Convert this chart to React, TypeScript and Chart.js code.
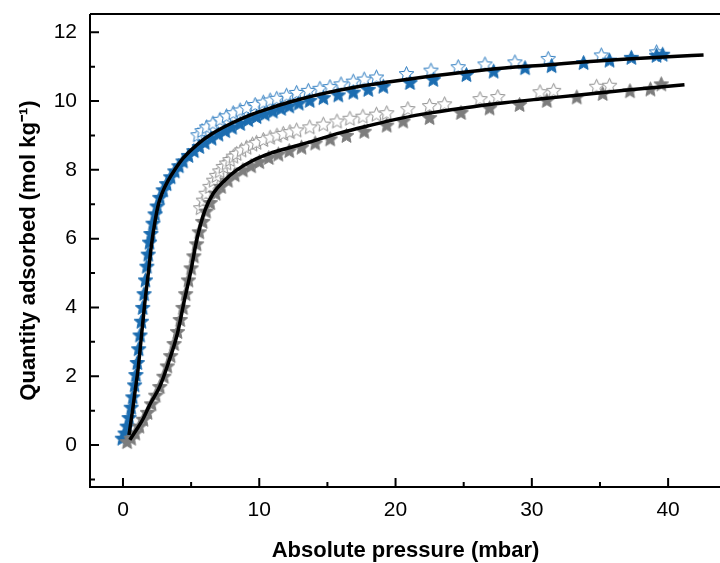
import React, { useEffect, useRef } from "react";
import { Chart, registerables } from "chart.js";

Chart.register(...registerables);

// ---- data ----
const blueAdsX = [-0.05, 0.15, 0.3, 0.45, 0.6, 0.72, 0.85, 0.95, 1.05, 1.15, 1.25, 1.35, 1.45, 1.55, 1.65, 1.75, 1.85, 1.95, 2.05, 2.2, 2.35, 2.5, 2.7, 2.95, 3.2, 3.5, 3.8, 4.1, 4.4, 4.8, 5.2, 5.6, 6.0, 6.5, 7.0, 7.5, 8.0, 8.6, 9.2, 9.8, 10.4, 11.0, 11.6, 12.2, 12.9, 13.7, 14.7, 15.8, 16.9, 18.0, 19.1, 21.06, 22.77, 25.2, 27.2, 29.5, 31.45, 33.8, 35.7, 37.3, 39.15, 39.6];
const blueAdsY = [0.2, 0.35, 0.55, 0.8, 1.1, 1.4, 1.75, 2.05, 2.4, 2.8, 3.2, 3.6, 4.0, 4.4, 4.8, 5.2, 5.55, 5.9, 6.15, 6.45, 6.72, 6.95, 7.2, 7.42, 7.6, 7.8, 7.97, 8.12, 8.26, 8.42, 8.56, 8.68, 8.8, 8.92, 9.04, 9.14, 9.24, 9.35, 9.46, 9.55, 9.63, 9.71, 9.79, 9.86, 9.94, 10.02, 10.1, 10.18, 10.26, 10.34, 10.43, 10.54, 10.63, 10.77, 10.87, 10.97, 11.03, 11.12, 11.19, 11.27, 11.33, 11.36];

const blueDesX = [5.5, 5.8, 6.14, 6.6, 7.12, 7.6, 8.09, 8.6, 9.07, 9.7, 10.3, 10.8, 11.28, 12.0, 12.74, 13.6, 14.45, 15.19, 16.0, 16.9, 17.7, 18.6, 20.8, 22.6, 24.6, 26.56, 28.76, 31.2, 35.1, 39.15];
const blueDesY = [9.02, 9.14, 9.25, 9.36, 9.47, 9.57, 9.66, 9.74, 9.81, 9.9, 9.97, 10.03, 10.08, 10.17, 10.25, 10.31, 10.37, 10.42, 10.5, 10.58, 10.64, 10.7, 10.8, 10.9, 11.0, 11.08, 11.14, 11.24, 11.34, 11.43];

const grayAdsX = [0.3, 0.6, 0.9, 1.2, 1.5, 1.8, 2.1, 2.4, 2.7, 3.0, 3.25, 3.5, 3.75, 4.0, 4.2, 4.4, 4.6, 4.8, 5.0, 5.2, 5.4, 5.6, 5.85, 6.1, 6.4, 6.8, 7.2, 7.7, 8.2, 8.8, 9.4, 10.0, 10.7, 11.4, 12.2, 13.1, 14.1, 15.2, 16.4, 17.7, 19.35, 20.56, 22.5, 24.8, 26.9, 29.1, 31.1, 33.3, 35.2, 37.2, 38.7, 39.5];
const grayAdsY = [0.1, 0.2, 0.35, 0.55, 0.75, 0.95, 1.2, 1.45, 1.7, 2.0, 2.3, 2.6, 2.95, 3.3, 3.65, 4.0, 4.4, 4.8, 5.15, 5.5, 5.85, 6.2, 6.5, 6.8, 7.05, 7.32, 7.52, 7.7, 7.86, 8.0, 8.12, 8.24, 8.36, 8.46, 8.56, 8.66, 8.78, 8.9, 9.0, 9.12, 9.3, 9.42, 9.52, 9.67, 9.8, 9.9, 10.02, 10.12, 10.22, 10.3, 10.35, 10.5];

const grayDesX = [5.7, 5.9, 6.1, 6.38, 6.65, 6.87, 7.1, 7.36, 7.6, 7.85, 8.1, 8.34, 8.7, 9.07, 9.5, 9.8, 10.3, 10.8, 11.3, 11.76, 12.25, 12.74, 13.7, 14.7, 15.7, 16.65, 17.6, 18.6, 19.35, 20.9, 22.5, 23.6, 26.2, 27.5, 30.6, 31.6, 34.75, 35.7];
const grayDesY = [6.9, 7.12, 7.32, 7.52, 7.7, 7.84, 7.97, 8.1, 8.2, 8.3, 8.4, 8.48, 8.58, 8.66, 8.75, 8.8, 8.88, 8.95, 9.01, 9.06, 9.11, 9.16, 9.25, 9.33, 9.42, 9.5, 9.56, 9.62, 9.66, 9.78, 9.87, 9.92, 10.07, 10.13, 10.27, 10.31, 10.43, 10.46];

const blueFitX = [0.44, 0.7, 0.9, 1.1, 1.35, 1.6, 1.86, 2.1, 2.35, 2.6, 2.9, 3.3, 3.8, 4.4, 5.4, 6.5, 8.0, 9.5, 11.0, 12.5, 14.5, 17.0, 19.6, 22.5, 25.0, 28.0, 31.1, 34.0, 37.0, 40.0, 42.6];
const blueFitY = [0.29, 1.0, 1.6, 2.18, 3.15, 4.13, 5.0, 5.85, 6.5, 7.0, 7.35, 7.68, 8.0, 8.33, 8.72, 9.04, 9.36, 9.62, 9.82, 10.0, 10.2, 10.4, 10.56, 10.72, 10.84, 10.96, 11.05, 11.14, 11.22, 11.29, 11.34];

const grayFitX = [0.5, 1.0, 1.5, 2.0, 2.7, 3.3, 4.0, 4.5, 5.0, 5.41, 6.02, 6.63, 7.48, 8.34, 9.56, 10.8, 12.0, 13.35, 16.0, 18.0, 19.6, 22.0, 25.0, 28.0, 31.1, 34.0, 37.0, 41.2];
const grayFitY = [0.15, 0.45, 0.78, 1.2, 1.7, 2.35, 3.25, 4.2, 5.1, 5.96, 6.83, 7.32, 7.7, 7.99, 8.28, 8.48, 8.62, 8.77, 9.08, 9.28, 9.43, 9.62, 9.8, 9.95, 10.08, 10.2, 10.32, 10.47];

const xMajorTicks = [0, 10, 20, 30, 40];
const xMinorTicks = [5, 15, 25, 35];
const yMajorTicks = [0, 2, 4, 6, 8, 10, 12];
const yMinorTicks = [-1, 1, 3, 5, 7, 9, 11];

const xTitle = "Absolute pressure (mbar)";
const yTitle = "Quantity adsorbed (mol kg\u207B\u00B9)";

const BLUE = "#1b6cb0";
const GRAY = "#7d7d7d";

function pts(xs: number[], ys: number[]) {
  return xs.map((x, i) => ({ x, y: ys[i] }));
}

function makeStar(fill: string, stroke: string, size = 17) {
  const c = document.createElement("canvas");
  c.width = size;
  c.height = size;
  const ctx = c.getContext("2d")!;
  const cx = size / 2;
  const cy = size / 2 + 0.7;
  const R = size / 2 - 0.8;
  const r = R * 0.46;
  ctx.beginPath();
  for (let i = 0; i < 10; i++) {
    const a = -Math.PI / 2 + (i * Math.PI) / 5;
    const rad = i % 2 === 0 ? R : r;
    ctx.lineTo(cx + rad * Math.cos(a), cy + rad * Math.sin(a));
  }
  ctx.closePath();
  ctx.fillStyle = fill;
  ctx.fill();
  ctx.lineWidth = 1;
  ctx.strokeStyle = stroke;
  ctx.stroke();
  return c;
}

const framePlugin = {
  id: "frame",
  afterDraw(chart: any) {
    const { ctx, chartArea, scales } = chart;
    const xs = scales.x;
    const ys = scales.y;
    ctx.save();
    ctx.strokeStyle = "#000";
    ctx.lineWidth = 2;
    ctx.beginPath();
    ctx.moveTo(chartArea.left, chartArea.top);
    ctx.lineTo(chartArea.right, chartArea.top);
    ctx.moveTo(chartArea.left, chartArea.top);
    ctx.lineTo(chartArea.left, chartArea.bottom);
    ctx.lineTo(chartArea.right, chartArea.bottom);
    const b = chartArea.bottom;
    const l = chartArea.left;
    xMajorTicks.forEach((v) => {
      const p = xs.getPixelForValue(v);
      ctx.moveTo(p, b);
      ctx.lineTo(p, b - 9);
    });
    xMinorTicks.forEach((v) => {
      const p = xs.getPixelForValue(v);
      ctx.moveTo(p, b);
      ctx.lineTo(p, b - 5);
    });
    yMajorTicks.forEach((v) => {
      const p = ys.getPixelForValue(v);
      ctx.moveTo(l, p);
      ctx.lineTo(l + 9, p);
    });
    yMinorTicks.forEach((v) => {
      const p = ys.getPixelForValue(v);
      ctx.moveTo(l, p);
      ctx.lineTo(l + 5, p);
    });
    ctx.stroke();
    ctx.restore();
  },
};

export default function App() {
  const ref = useRef<HTMLCanvasElement | null>(null);
  useEffect(() => {
    if (!ref.current) return;
    document.body.style.overflow = "hidden";
    const blueFilled = makeStar(BLUE, BLUE);
    const blueOpen = makeStar("#ffffff", "#2c7bc0");
    const grayFilled = makeStar(GRAY, GRAY);
    const grayOpen = makeStar("#ffffff", "#8e8e8e");
    const fitCommon = {
      showLine: true,
      pointRadius: 0,
      borderColor: "#000",
      backgroundColor: "#000",
      borderWidth: 3.5,
      cubicInterpolationMode: "monotone" as const,
    };
    const chart = new Chart(ref.current, {
      type: "scatter",
      data: {
        datasets: [
          { label: "fit blue", data: pts(blueFitX, blueFitY), ...fitCommon },
          { label: "fit gray", data: pts(grayFitX, grayFitY), ...fitCommon },
          { label: "gray ads", data: pts(grayAdsX, grayAdsY), pointStyle: grayFilled, pointRadius: 8 },
          { label: "blue ads", data: pts(blueAdsX, blueAdsY), pointStyle: blueFilled, pointRadius: 8 },
          { label: "gray des", data: pts(grayDesX, grayDesY), pointStyle: grayOpen, pointRadius: 8 },
          { label: "blue des", data: pts(blueDesX, blueDesY), pointStyle: blueOpen, pointRadius: 8 },
        ],
      },
      options: {
        animation: false,
        responsive: false,
        devicePixelRatio: 1,
        events: [],
        layout: { padding: { top: 14, left: 0, right: 0, bottom: 0 } },
        plugins: { legend: { display: false }, tooltip: { enabled: false } },
        scales: {
          x: {
            type: "linear",
            min: -2.42,
            max: 43.88,
            grid: { display: false, drawTicks: false },
            border: { display: false },
            ticks: {
              stepSize: 5,
              includeBounds: false,
              padding: 11,
              color: "#000",
              font: { family: "'Liberation Sans', Arial, sans-serif", size: 21 },
              maxRotation: 0,
              autoSkip: false,
              callback: (v: any) => (Number(v) % 10 === 0 ? String(v) : ""),
            },
            title: {
              display: true,
              text: xTitle,
              color: "#000",
              font: { family: "'Liberation Sans', Arial, sans-serif", size: 22, weight: "bold", lineHeight: 1.0 },
              padding: { top: 0, bottom: 1 },
            },
            afterFit: (s: any) => {
              s.height = 76;
              s.paddingLeft = 0;
              s.paddingRight = 0;
            },
          },
          y: {
            type: "linear",
            min: -1.22,
            max: 12.53,
            grid: { display: false, drawTicks: false },
            border: { display: false },
            ticks: {
              stepSize: 1,
              includeBounds: false,
              padding: 13,
              color: "#000",
              font: { family: "'Liberation Sans', Arial, sans-serif", size: 21 },
              autoSkip: false,
              callback: (v: any) => (Number(v) % 2 === 0 ? String(v) : ""),
            },
            title: {
              display: true,
              text: yTitle,
              color: "#000",
              font: { family: "'Liberation Sans', Arial, sans-serif", size: 22, weight: "bold", lineHeight: 1.0 },
              padding: { top: 18, bottom: 0 },
            },
            afterFit: (s: any) => {
              s.width = 90;
              s.paddingTop = 0;
              s.paddingBottom = 0;
            },
          },
        },
      },
      plugins: [framePlugin],
    });
    return () => chart.destroy();
  }, []);
  return (
    <div style={{ position: "fixed", left: 0, top: 0, width: 730, height: 563, overflow: "hidden", background: "#fff" }}>
      <canvas ref={ref} width={730} height={563} style={{ width: 730, height: 563, display: "block" }} />
    </div>
  );
}
